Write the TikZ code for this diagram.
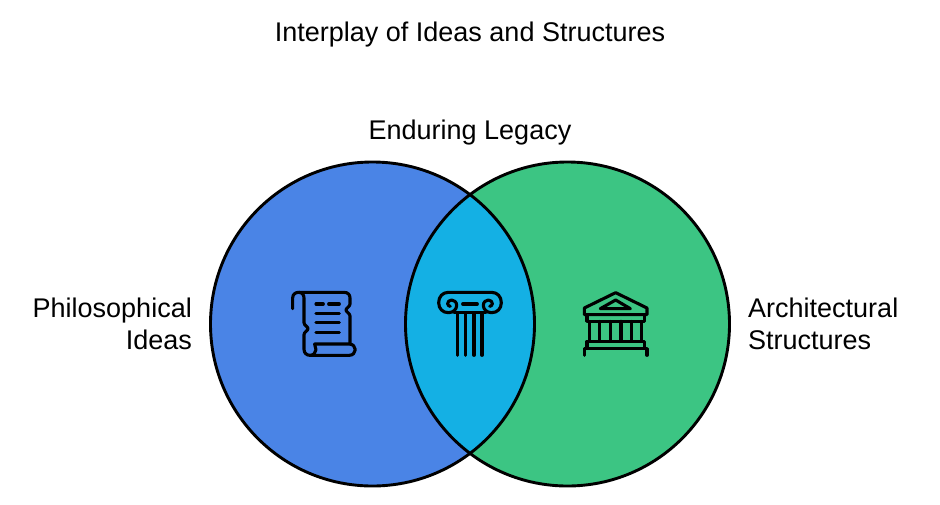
\documentclass[tikz,border=0pt]{standalone}
\usepackage{fontspec}
\setmainfont{Liberation Sans}
\definecolor{cblue}{HTML}{4A84E6}
\definecolor{cgreen}{HTML}{3CC583}
\definecolor{cmid}{HTML}{14B0E4}
\tikzset{
  lbl/.style={inner sep=0pt,font=\fontsize{27pt}{32pt}\selectfont,text=black},
  ring/.style={draw=black,line width=2.9pt},
  ico/.style={draw=black,line width=3.1pt,line cap=round,line join=round}
}
\begin{document}
\begin{tikzpicture}[x=1pt,y=-1pt]
\useasboundingbox (0,0) rectangle (940,504);
\fill[white] (0,0) rectangle (940,504);
\fill[cblue] (372.5,324) circle[radius=162];
\fill[cgreen] (567.5,324) circle[radius=162];
\begin{scope}
  \clip (372.5,324) circle[radius=162];
  \fill[cmid] (567.5,324) circle[radius=162];
\end{scope}
\draw[ring] (372.5,324) circle[radius=162];
\draw[ring] (567.5,324) circle[radius=162];
\node[lbl] (title) at (470,35) {Interplay of Ideas and Structures};
\node[lbl] (legacy) at (470,133) {Enduring Legacy};
\node[lbl,align=right,anchor=east] (phil) at (192,324) {Philosophical\\Ideas};
\node[lbl,align=left,anchor=west] (arch) at (748,324) {Architectural\\Structures};
% scroll
\begin{scope}[shift={(280,280)},x=0.3333pt,y=-0.3333pt]
\draw[ico] (38,86) -- (38,54) .. controls (38,43) and (46,37) .. (56,37) -- (192,37) .. controls (204,37) and (210,44) .. (210,54) -- (210,72) .. controls (210,80) and (198,84) .. (198,90) .. controls (198,96) and (210,100) .. (210,108) -- (210,192);
\draw[ico] (56,37) .. controls (66,37) and (72,44) .. (72,54) -- (72,128) .. controls (72,136) and (84,140) .. (84,146) .. controls (84,152) and (72,156) .. (72,164) -- (72,208) .. controls (72,219) and (80,226) .. (90,226) -- (208,226) .. controls (218,226) and (226,218) .. (226,209) .. controls (226,200) and (218,192) .. (208,192) -- (104,192) .. controls (104,200) and (108,204) .. (108,209) .. controls (108,218) and (100,226) .. (90,226);
\draw[ico] (108,72) -- (130,72) (146,72) -- (178,72);
\draw[ico] (108,100) -- (178,100) (108,128) -- (178,128) (108,157) -- (178,157);
\end{scope}
% column
\begin{scope}[shift={(430,280)},x=0.3333pt,y=-0.3333pt]
\draw[ico] (55,98) .. controls (38,98) and (26,86) .. (26,68) .. controls (26,50) and (38,37) .. (55,37) -- (185,37) .. controls (202,37) and (214,50) .. (214,68) .. controls (214,86) and (202,98) .. (185,98) .. controls (170,98) and (160,88) .. (160,76) .. controls (160,66) and (168,60) .. (175,60) .. controls (183,60) and (187,66) .. (187,71) .. controls (187,76) and (183,79) .. (179,79);
\draw[ico] (55,98) .. controls (70,98) and (80,88) .. (80,76) .. controls (80,66) and (72,60) .. (65,60) .. controls (57,60) and (53,66) .. (53,71) .. controls (53,76) and (57,79) .. (61,79);
\draw[ico] (98,72) -- (142,72) (72,98) -- (168,98);
\draw[ico] (82,98) -- (82,226) (106,98) -- (106,226) (132,98) -- (132,226) (156,98) -- (156,226);
\end{scope}
% temple
\begin{scope}[shift={(575,280)},x=0.3333pt,y=-0.3333pt]
\draw[ico] (122,38) -- (216,84) -- (216,104) -- (28,104) -- (28,84) -- cycle;
\draw[ico] (122,60) -- (166,86) -- (76,86) -- cycle;
\draw[ico] (36,104) -- (36,124) -- (208,124) -- (208,104);
\draw[ico] (44,124) -- (44,184) (74,124) -- (74,184) (106,124) -- (106,184) (138,124) -- (138,184) (170,124) -- (170,184) (200,124) -- (200,184);
\draw[ico] (36,184) -- (208,184) -- (208,206) -- (36,206) -- cycle;
\draw[ico] (28,226) -- (28,206) -- (216,206) -- (216,226);
\end{scope}
\end{tikzpicture}
\end{document}
